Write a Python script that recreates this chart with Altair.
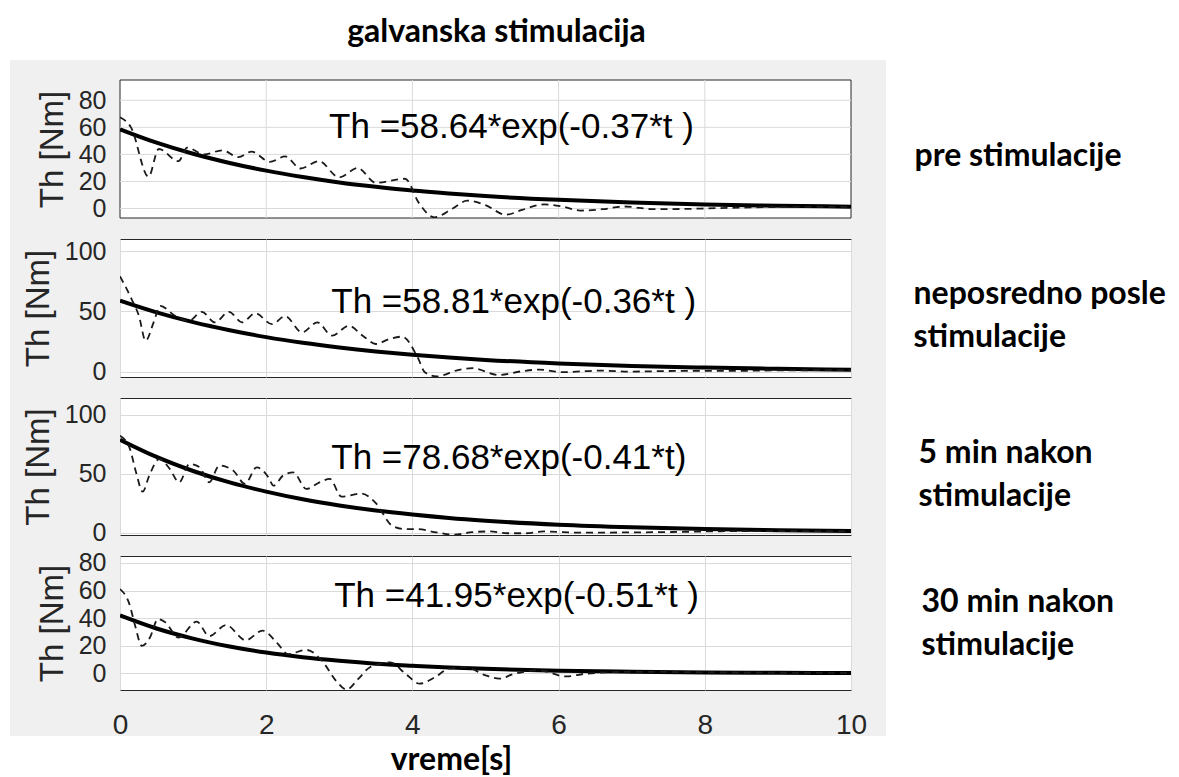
import altair as alt
import pandas as pd

# ---------------- data ----------------
x_ticks = [0, 2, 4, 6, 8, 10]

panel_names = ["pre stimulacije", "neposredno posle stimulacije",
               "5 min nakon stimulacije", "30 min nakon stimulacije"]
right_labels = [["pre stimulacije"],
                ["neposredno posle", "stimulacije"],
                ["5 min nakon", "stimulacije"],
                ["30 min nakon", "stimulacije"]]
formulas = ["Th =58.64*exp(-0.37*t )",
            "Th =58.81*exp(-0.36*t )",
            "Th =78.68*exp(-0.41*t)",
            "Th =41.95*exp(-0.51*t )"]

y_ticks = [[0, 20, 40, 60, 80], [0, 50, 100], [0, 50, 100], [0, 20, 40, 60, 80]]
y_domains = [[-7, 95], [-4.5, 110], [-2, 114], [-12, 85]]

# exponential fit curves (solid)
t_fit = [0, 0.5, 1, 1.5, 2, 2.5, 3, 3.5, 4, 4.5, 5, 6, 7, 8, 9, 10]
fit_pre = [58.6, 48.7, 40.5, 33.7, 28.0, 23.3, 19.3, 16.1, 13.3, 11.1, 9.2, 6.4, 4.4, 3.0, 2.1, 1.4]
fit_posle = [58.8, 49.1, 41.0, 34.3, 28.6, 23.9, 20.0, 16.7, 13.9, 11.6, 9.7, 6.8, 4.7, 3.3, 2.3, 1.6]
fit_5min = [78.7, 64.1, 52.2, 42.5, 34.7, 28.2, 23.0, 18.7, 15.3, 12.4, 10.1, 6.7, 4.5, 3.0, 2.0, 1.3]
fit_30min = [42.0, 32.5, 25.2, 19.5, 15.1, 11.7, 9.1, 7.0, 5.5, 4.2, 3.3, 2.0, 1.2, 0.7, 0.4, 0.3]

# measured torque (dashed)
t_pre = [0.0, 0.15, 0.39, 0.53, 0.8, 0.92, 1.15, 1.4, 1.62, 1.8, 2.05, 2.26, 2.47, 2.72, 3.0,
         3.25, 3.5, 3.9, 4.09, 4.3, 4.55, 4.75, 5.0, 5.28, 5.5, 5.8, 6.05, 6.3, 6.6, 6.9,
         7.3, 7.7, 8.2, 8.8, 9.5, 10.0]
th_pre = [67.5, 60, 23.5, 44, 35, 45, 40, 43, 38, 42, 34.5, 38.5, 29.6, 35, 23,
          30, 19, 22, 4, -6.5, 0, 5.8, 2.5, -4.6, -1, 3, 1.5, -1.5, -0.5, 1.5,
          -0.5, -0.3, 0.3, 1.0, 1.3, 1.2]

t_posle = [0.0, 0.16, 0.26, 0.35, 0.46, 0.55, 0.76, 0.94, 1.12, 1.3, 1.49, 1.67, 1.85, 2.08,
           2.26, 2.49, 2.7, 2.9, 3.13, 3.32, 3.5, 3.68, 3.86, 4.08, 4.17, 4.33, 4.64, 4.82,
           5.18, 5.5, 5.73, 6.05, 6.56, 7.0, 7.6, 8.3, 9.0, 10.0]
th_posle = [79, 60, 46, 25.6, 40.8, 54.5, 46, 42, 49.6, 40.8, 49.6, 40.8, 48.4, 39.4,
            46, 32.5, 40.8, 29.8, 38, 29.8, 22.9, 26.9, 29, 10.7, -0.5, -4, 1.5, 2.8,
            -2.8, 0.3, 1.6, -0.5, 0.8, 0, 0.5, 0.5, 1.0, 1.2]

t_5min = [0.0, 0.13, 0.22, 0.31, 0.4, 0.54, 0.68, 0.81, 0.95, 1.09, 1.22, 1.36, 1.55, 1.71,
          1.87, 2.03, 2.1, 2.23, 2.37, 2.55, 2.73, 2.87, 3.03, 3.3, 3.5, 3.72, 3.9, 4.06,
          4.33, 4.56, 4.82, 5.05, 5.3, 5.55, 5.8, 6.3, 7.0, 7.5, 8.5, 10.0]
th_5min = [82, 72, 51, 34.7, 48.3, 62.5, 54, 42.6, 58.2, 55.3, 42.6, 56.8, 52.5, 41.3,
           55.3, 46.9, 39.8, 48.3, 51, 37, 42.6, 45.5, 30.5, 33, 25, 6, 3, 3,
           0.2, -1.7, 0.4, 1, -0.5, -0.5, 1, 0, 0.2, 0.5, 1.3, 1.3]

t_30min = [0.0, 0.13, 0.2, 0.3, 0.41, 0.52, 0.62, 0.8, 1.05, 1.22, 1.45, 1.72, 1.95, 2.15,
           2.3, 2.55, 2.78, 2.95, 3.1, 3.26, 3.42, 3.7, 3.9, 4.1, 4.3, 4.5, 4.73, 5.0,
           5.19, 5.37, 5.73, 6.1, 6.37, 7.0, 8.0, 9.0, 10.0]
th_30min = [61, 50, 36, 20, 26, 39.4, 37, 26, 37.5, 27, 35, 24, 31, 22,
            14, 17, 8, -5, -11.7, -4, 4.5, 8, 0, -7.4, -3, 3.4, 4.5, -1.4,
            -3.8, -0.7, 2.2, -2.2, -0.2, 1.2, 0.8, 0.5, 0.3]

# position of the formula annotation (data coordinates)
ann_t = [2.86, 2.89, 2.89, 2.93]
ann_v = [60.3, 58.0, 63.2, 56.2]

fits = [fit_pre, fit_posle, fit_5min, fit_30min]
meas_t = [t_pre, t_posle, t_5min, t_30min]
meas_v = [th_pre, th_posle, th_5min, th_30min]

# ---------------- styling ----------------
PLOT_W = 731
heights = [138, 138, 137, 134]
SPACING = 21
PLOT_LEFT = 119          # page x of plot left edge
PLOT_TOP = 78            # page y of first plot top
FONT = "Liberation Sans"
BOLD = "Lato"
GRID = "#dadada"
AXC = "#262626"
right_title_x = [63, 62, 67, 70]
right_title_y = [75, 54.5, 54, 45]


def make_panel(i):
    last = i == 3
    first = i == 0
    h = heights[i]
    xs = alt.Scale(domain=[0, 10], nice=False, zero=False)
    ys = alt.Scale(domain=y_domains[i], nice=False, zero=False)
    zi = 1 if first else 0

    xkw = dict(values=x_ticks, grid=not first, gridColor=GRID, gridWidth=1,
               domain=False, ticks=False, tickSize=0, labels=last, zindex=zi,
               labelFlush=False, labelOverlap=False)
    if last:
        xkw.update(labelFont=FONT, labelFontSize=28, labelColor=AXC, labelPadding=21,
                   title="vreme[s]", titleFont=BOLD, titleFontSize=32,
                   titleFontWeight="bold", titleColor="black",
                   titleX=331, titleY=69, titleAlign="center", titleBaseline="middle")
    else:
        xkw.update(title="")
    x_axis = alt.Axis(**xkw)

    y_left = alt.Axis(values=y_ticks[i], orient="left", grid=not first, gridColor=GRID,
                      gridWidth=1, domain=False, ticks=False, tickSize=0,
                      labelFont=FONT, labelFontSize=25, labelColor=AXC, labelPadding=14,
                      labelOverlap=False, labelFlush=False,
                      title="Th [Nm]", titleFont=FONT, titleFontSize=33,
                      titleFontWeight="normal", titleColor=AXC, titlePadding=9,
                      zindex=zi)
    y_right = alt.Axis(orient="right", values=[], grid=False, domain=False, ticks=False,
                       labels=False, title=right_labels[i], titleAngle=0,
                       titleAlign="left", titleBaseline="middle",
                       titleX=right_title_x[i], titleY=right_title_y[i],
                       titleFont=BOLD, titleFontSize=32, titleFontWeight="bold",
                       titleColor="black", titleLineHeight=43, zindex=zi)

    fit_df = pd.DataFrame({"t": t_fit, "v": fits[i]})
    meas_df = pd.DataFrame({"t": meas_t[i], "v": meas_v[i]})
    ann_df = pd.DataFrame({"t": [ann_t[i]], "v": [ann_v[i]], "label": [formulas[i]]})

    fit_line = alt.Chart(fit_df).mark_line(
        color="black", strokeWidth=4, interpolate="monotone", clip=True
    ).encode(x=alt.X("t:Q", scale=xs, axis=x_axis),
             y=alt.Y("v:Q", scale=ys, axis=y_left))

    meas_line = alt.Chart(meas_df).mark_line(
        color="#1a1a1a", strokeWidth=1.8, strokeDash=[7, 5],
        interpolate="monotone", clip=True
    ).encode(x=alt.X("t:Q", scale=xs, axis=x_axis),
             y=alt.Y("v:Q", scale=ys, axis=y_right))

    ann = alt.Chart(ann_df).mark_text(
        align="left", baseline="middle", font=FONT, fontSize=35, color="black"
    ).encode(x=alt.X("t:Q", scale=xs, axis=x_axis),
             y=alt.Y("v:Q", scale=ys, axis=None),
             text="label:N")

    layers = []
    if first:
        one = pd.DataFrame({"a": [0]})
        # figure-area grey background (behind all panels) and white plot box
        bg = alt.Chart(one).mark_rect(color="#f0f0f0").encode(
            x=alt.value(9 - PLOT_LEFT), x2=alt.value(885 - PLOT_LEFT),
            y=alt.value(58 - PLOT_TOP), y2=alt.value(734 - PLOT_TOP))
        box = alt.Chart(one).mark_rect(fill="white", stroke=AXC, strokeWidth=1).encode(
            x=alt.value(0), x2=alt.value(PLOT_W), y=alt.value(0), y2=alt.value(h))
        ygrid = alt.Chart(pd.DataFrame({"v": y_ticks[i]})).mark_rule(
            color=GRID, strokeWidth=1).encode(y=alt.Y("v:Q", scale=ys, axis=None))
        xgrid = alt.Chart(pd.DataFrame({"t": x_ticks[1:-1]})).mark_rule(
            color=GRID, strokeWidth=1).encode(x=alt.X("t:Q", scale=xs, axis=x_axis))
        layers = [bg, box, ygrid, xgrid]
    layers += [fit_line, meas_line, ann]

    props = dict(width=PLOT_W, height=h)
    if first:
        props["title"] = alt.TitleParams(
            text="galvanska stimulacija", font=BOLD, fontSize=32, fontWeight="bold",
            color="black", anchor="middle", frame="group", offset=11, dx=11)
    return alt.layer(*layers).resolve_axis(y="independent").properties(**props)


panels = [make_panel(i) for i in range(4)]

chart = alt.vconcat(*panels, spacing=SPACING, bounds="flush").properties(
    padding={"left": 1, "top": 7, "right": 5, "bottom": 5},
    background="white",
).configure_view(stroke=AXC, strokeWidth=1, fill="white")

chart.save("out.html", embed_options={"renderer": "svg", "actions": False})
